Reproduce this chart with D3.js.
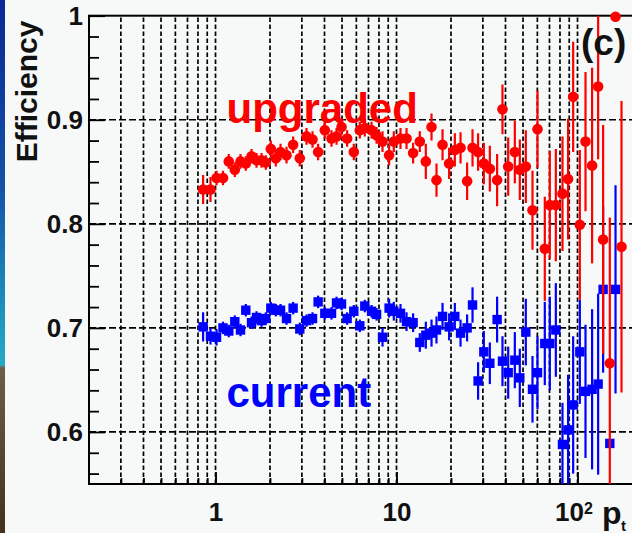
<!DOCTYPE html>
<html><head><meta charset="utf-8">
<script src="https://cdn.jsdelivr.net/npm/d3@7"></script>
<style>
html,body{margin:0;padding:0;background:#f6f9f7;overflow:hidden;}
svg{display:block;}
text{font-family:"Liberation Sans",Arial,Helvetica,sans-serif;font-weight:bold;}
</style></head><body>
<svg id="c" width="632" height="533"></svg>
<script>
// ---- data ----
const ptBins = [0.854,0.938,1.013,1.10,1.184,1.278,1.374,1.470,1.581,1.685,1.795,1.896,2.021,2.154,2.287,2.468,2.684,2.922,3.183,3.435,3.689,4.017,4.374,4.662,4.968,5.335,5.808,6.27,6.68,7.28,7.76,8.37,9.10,9.66,10.52,11.36,12.35,13.45,14.52,15.61,16.63,17.96,19.53,21.0,22.58,24.55,26.3,28.23,30.37,32.78,35.96,38.5,41.4,45.05,48.0,51.8,56.4,60.1,65.96,70.3,75.9,82.6,88.7,94.6,103.0,110.7,120.4,130.0,138.5,150.8,162.2,175.0];

const upgradedEff = [0.833,0.833,0.844,0.844,0.860,0.852,0.860,0.858,0.865,0.861,
0.861,0.859,0.872,0.863,0.869,0.866,0.876,0.863,0.884,0.881,
0.869,0.890,0.882,0.884,0.893,0.882,0.869,0.890,0.892,0.890,
0.885,0.879,0.866,0.879,0.882,0.882,0.868,0.879,0.860,0.893,
0.842,0.876,0.858,0.871,0.873,0.841,0.873,0.869,0.858,0.853,
0.842,0.910,0.855,0.869,0.852,0.855,0.813,0.891,0.776,0.818,
0.818,0.829,0.843,0.922,0.799,0.879,0.856,0.932,0.785,0.666,
0.999,0.778];
const upgradedErr = [0.014,0.012,0.007,0.007,0.007,0.007,0.007,0.007,0.007,0.007,0.007,0.007,
0.008,0.008,0.008,0.008,0.008,0.008,0.008,0.008,0.008,0.008,0.008,0.008,0.008,0.008,0.008,0.008,0.008,0.008,0.008,
0.010,0.010,0.010,0.010,0.010,0.010,0.010,
0.017,0.013,0.016,0.015,0.015,0.016,0.015,
0.018,0.018,0.018,0.020,0.022,0.025,
0.024,0.028,0.030,0.029,0.035,0.038,0.037,
0.050,0.052,0.054,0.055,0.058,
0.053,0.072,0.067,0.094,0.070,0.110,0.140,0,0.140];

const currentEff = [0.701,0.692,0.691,0.700,0.697,0.706,0.698,0.717,0.705,0.710,
0.707,0.709,0.719,0.717,0.717,0.709,0.719,0.699,0.707,0.709,
0.725,0.714,0.714,0.724,0.723,0.709,0.716,0.702,0.721,0.716,
0.713,0.691,0.719,0.716,0.714,0.706,0.705,0.686,0.693,0.695,
0.698,0.711,0.701,0.711,0.695,0.700,0.722,0.649,0.677,0.666,
0.708,0.668,0.657,0.669,0.652,0.696,0.641,0.657,0.685,0.685,
0.698,0.588,0.602,0.626,0.677,0.639,0.641,0.646,0.737,0.589,
0.737,null];
const currentErr = [0.014,0.008,0.008,0.006,0.006,0.006,0.006,0.006,0.006,0.006,
0.006,0.006,0.006,0.006,0.006,0.006,0.006,0.006,0.006,0.006,
0.006,0.006,0.006,0.006,0.006,0.006,0.006,0.006,0.006,0.006,
0.006,0.009,0.009,0.009,0.009,0.009,0.009,0.009,0.013,0.013,
0.013,0.013,0.013,0.013,0.013,0.013,0.017,0.018,0.020,0.020,
0.022,0.024,0.025,0.027,0.028,0.032,0.032,0.035,0.040,0.045,
0.045,0.040,0.053,0.066,0.050,0.064,0.077,0.087,0.080,0,
0.100,null];

const yMajorTicks = [0.6,0.7,0.8,0.9,1.0];
const yTickLabels = ["0.6","0.7","0.8","0.9","1"];
const yMinorTicks = [0.56,0.58,0.62,0.64,0.66,0.68,0.72,0.74,0.76,0.78,0.82,0.84,0.86,0.88,0.92,0.94,0.96,0.98];
const yGridLines = [0.6,0.7,0.8,0.9];
const xGridTicks = [0.3,0.4,0.5,0.6,0.7,0.8,0.9,1,2,3,4,5,6,7,8,9,10,20,30,40,50,60,70,80,90,100];
const xMajorTicks = [1,10,100];
const xTickLabels = ["1","10","10"];
const seriesLabels = ["upgraded","current"];

// ---- drawing ----
const svg = d3.select("#c");
const W = 632, H = 533;
const L = 89, R = 632, T = 15.7, B = 484;

const defs = svg.append("defs");
const grad = defs.append("linearGradient").attr("id","strip").attr("x1",0).attr("y1",0).attr("x2",0).attr("y2",1);
[[0,"#0a2896"],[0.35,"#1452a8"],[0.62,"#1f9cc0"],[0.685,"#26a9c6"],[0.69,"#6e5e46"],[1,"#42321c"]]
  .forEach(([o,c]) => grad.append("stop").attr("offset",o).attr("stop-color",c));
defs.append("clipPath").attr("id","plotclip").append("rect")
  .attr("x",L).attr("y",T).attr("width",R-L).attr("height",B-T);

svg.append("rect").attr("width",W).attr("height",H).attr("fill","#f6f9f7");
svg.append("rect").attr("x",0).attr("y",0).attr("width",5).attr("height",H).attr("fill","url(#strip)");

const x = d3.scaleLog().domain([0.2,200]).range([L,R]);
const y = d3.scaleLinear().domain([0.55,1.0]).range([B,T]);

// grid
const grid = svg.append("g");
grid.selectAll("line.v").data(xGridTicks).join("line")
  .attr("x1",d=>x(d)).attr("x2",d=>x(d)).attr("y1",B).attr("y2",T)
  .attr("stroke","#000").attr("stroke-width",1.7).attr("stroke-dasharray","4.5,2.5");
grid.selectAll("line.h").data(yGridLines).join("line")
  .attr("x1",L).attr("x2",R).attr("y1",d=>y(d)).attr("y2",d=>y(d))
  .attr("stroke","#000").attr("stroke-width",1.7).attr("stroke-dasharray","7,3");

// axes
const yMinorAx = svg.append("g").attr("transform",`translate(${L},0)`)
  .call(d3.axisLeft(y).tickValues(yMinorTicks).tickSize(-10).tickFormat(""));
const yMajorAx = svg.append("g").attr("transform",`translate(${L},0)`)
  .call(d3.axisLeft(y).tickValues(yMajorTicks).tickSize(-16).tickPadding(6)
    .tickFormat((d,i)=>yTickLabels[i]));
const xMinorAx = svg.append("g").attr("transform",`translate(0,${B})`)
  .call(d3.axisBottom(x).tickValues(xGridTicks).tickSize(-6).tickFormat(""));
const xMajorAx = svg.append("g").attr("transform",`translate(0,${B})`)
  .call(d3.axisBottom(x).tickValues(xMajorTicks).tickSize(-12).tickPadding(19)
    .tickFormat((d,i)=>xTickLabels[i]));
[yMinorAx,yMajorAx,xMinorAx,xMajorAx].forEach(a=>{
  a.select(".domain").remove();
  a.selectAll(".tick line").attr("stroke","#000").attr("stroke-width",1.8);
  a.selectAll("text").attr("fill","#111").attr("font-size",26)
   .attr("font-family",'"Liberation Sans",Arial,sans-serif').attr("font-weight","bold");
});
// superscript on 10^2
xMajorAx.selectAll(".tick text").filter(d=>d===100)
  .attr("dx","-4")
  .append("tspan").attr("dy","-0.45em").attr("font-size",16).text("2");

// frame
svg.append("rect").attr("x",L).attr("y",T).attr("width",R-L+2).attr("height",B-T)
  .attr("fill","none").attr("stroke","#000").attr("stroke-width",2);

// series
function drawSeries(eff, err, color, shape){
  const pts = ptBins.map((p,i)=>({p, v:eff[i], e:err[i]})).filter(d=>d.v!=null);
  const g = svg.append("g");
  g.append("g").attr("clip-path","url(#plotclip)")
    .selectAll("line").data(pts.filter(d=>d.e>0)).join("line")
    .attr("x1",d=>x(d.p)).attr("x2",d=>x(d.p))
    .attr("y1",d=>y(d.v-d.e)).attr("y2",d=>y(d.v+d.e))
    .attr("stroke",color).attr("stroke-width",2.2);
  if(shape==="circle"){
    g.selectAll("circle").data(pts).join("circle")
      .attr("cx",d=>x(d.p)).attr("cy",d=>y(d.v)).attr("r",5.3).attr("fill",color);
  } else {
    g.selectAll("rect").data(pts).join("rect")
      .attr("x",d=>x(d.p)-4.7).attr("y",d=>y(d.v)-4.7).attr("width",9.4).attr("height",9.4).attr("fill",color);
  }
}
drawSeries(currentEff, currentErr, "#0000ff", "square");
drawSeries(upgradedEff, upgradedErr, "#ff0000", "circle");

// labels
svg.append("text").attr("transform","translate(36.5,91.5) rotate(-90)")
  .attr("text-anchor","middle").attr("font-size",30).attr("fill","#111").text("Efficiency");
svg.append("text").attr("x",602).attr("y",524).attr("font-size",32).attr("fill","#111").text("p");
svg.append("text").attr("x",621).attr("y",531).attr("font-size",15).attr("fill","#111").text("t");
svg.append("text").attr("x",581).attr("y",55).attr("font-size",37).attr("fill","#111").text("(c)");
svg.append("text").attr("x",226.5).attr("y",123).attr("font-size",42).attr("fill","#ff0000").text(seriesLabels[0]);
svg.append("text").attr("x",226.5).attr("y",406.5).attr("font-size",42).attr("fill","#0000ff").text(seriesLabels[1]);
</script>
</body></html>
